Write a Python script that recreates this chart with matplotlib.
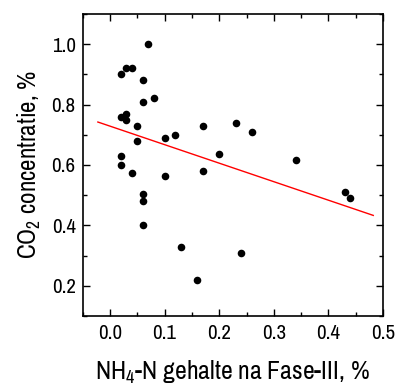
import matplotlib
matplotlib.use("Agg")
import matplotlib.pyplot as plt
from matplotlib.ticker import MultipleLocator
import numpy as np

x_vals = [0.02, 0.03, 0.04, 0.07, 0.06, 0.06, 0.08, 0.02, 0.03, 0.03, 0.05, 0.05,
          0.10, 0.12, 0.17, 0.23, 0.26, 0.20, 0.34, 0.43, 0.44, 0.02, 0.02, 0.04,
          0.10, 0.17, 0.06, 0.06, 0.06, 0.13, 0.24, 0.16]
y_vals = [0.90, 0.92, 0.92, 1.00, 0.88, 0.81, 0.82, 0.76, 0.77, 0.75, 0.73, 0.68,
          0.69, 0.70, 0.73, 0.74, 0.71, 0.635, 0.615, 0.51, 0.49, 0.63, 0.60, 0.575,
          0.565, 0.58, 0.505, 0.48, 0.40, 0.33, 0.31, 0.22]
fit_slope = -0.613
fit_intercept = 0.7286
fit_range = [-0.022, 0.482]

plt.rcParams['font.family'] = ['Archivo Narrow', 'DejaVu Sans']
plt.rcParams['mathtext.fontset'] = 'custom'
plt.rcParams['mathtext.rm'] = 'Archivo Narrow'

fig = plt.figure(figsize=(3.97, 3.85), dpi=100)
ax = fig.add_axes([0.208, 0.179, 0.757, 0.785])

ax.scatter(x_vals, y_vals, s=30, color='black', zorder=3, linewidths=0)
fx = np.array(fit_range)
ax.plot(fx, fit_slope * fx + fit_intercept, color='red', lw=1.0)

ax.set_xlim(-0.05, 0.5)
ax.set_ylim(0.1, 1.1)
ax.xaxis.set_minor_locator(MultipleLocator(0.05))
ax.yaxis.set_minor_locator(MultipleLocator(0.1))
ax.set_xticks([0.0, 0.1, 0.2, 0.3, 0.4, 0.5])
ax.set_xticklabels(['0.0', '0.1', '0.2', '0.3', '0.4', '0.5'])
ax.set_yticks([0.2, 0.4, 0.6, 0.8, 1.0])
ax.set_yticklabels(['0.2', '0.4', '0.6', '0.8', '1.0'])
ax.tick_params(which='both', direction='in', top=True, right=True, width=1.0)
ax.tick_params(which='major', length=5, labelsize=15)
ax.tick_params(axis='x', which='major', pad=6)
ax.tick_params(axis='y', which='major', pad=5)
ax.tick_params(which='minor', length=3)
for sp in ax.spines.values():
    sp.set_linewidth(1.2)

ax.set_xlabel('NH$_\\mathrm{4}$-N gehalte na Fase-III, %', fontsize=18.5, labelpad=11)
ax.set_ylabel('CO$_\\mathrm{2}$ concentratie, %', fontsize=18, labelpad=6)

fig.savefig('out.png', dpi=100)
